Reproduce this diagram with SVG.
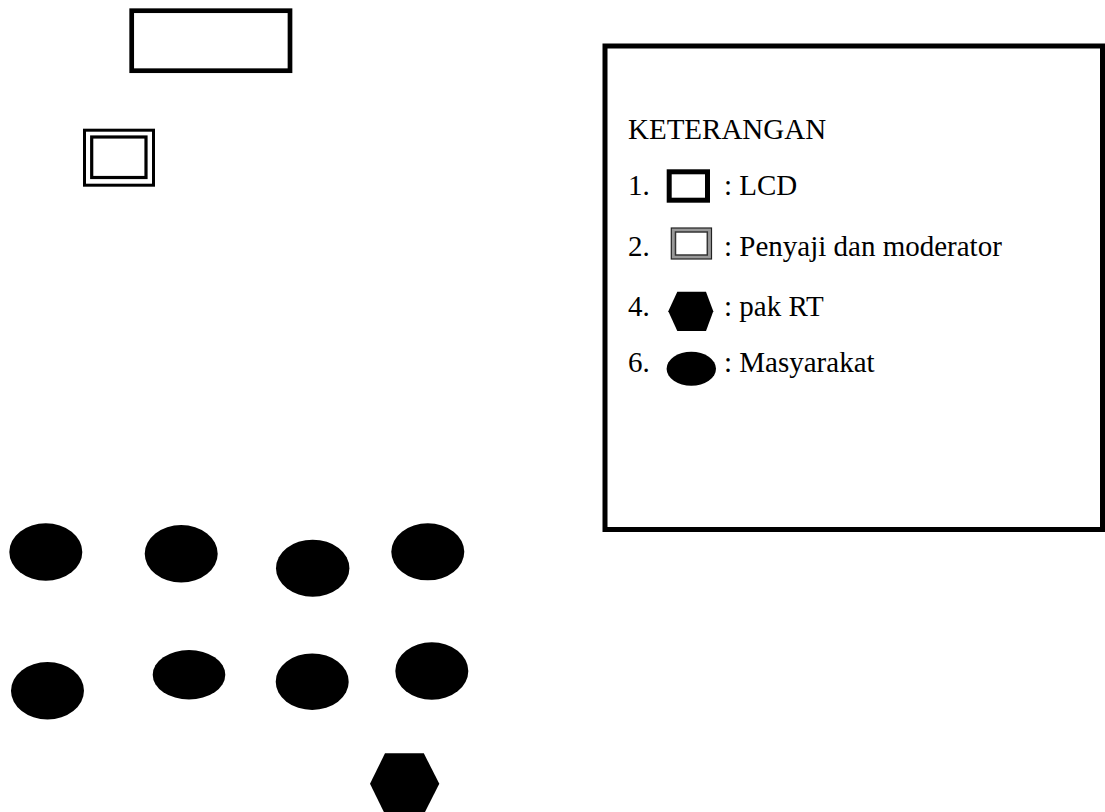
<svg xmlns="http://www.w3.org/2000/svg" width="1105" height="812" viewBox="0 0 1105 812">
<style>
.t{font-family:"Liberation Serif","Times New Roman",serif;font-size:29px;fill:#000}
.blob{fill:#000}
</style>
<rect width="1105" height="812" fill="#fff"/>
<g id="lcd"><rect x="131.7" y="10.7" width="158.3" height="60" fill="#fff" stroke="#000" stroke-width="4.7"/></g>
<g id="penyaji">
<rect x="84.5" y="130.2" width="69" height="55" fill="#fff" stroke="#000" stroke-width="3"/>
<rect x="91.7" y="137" width="54.3" height="40.5" fill="#fff" stroke="#000" stroke-width="3.2"/>
</g>
<g id="masyarakat">
<ellipse class="blob" cx="45.8" cy="552" rx="36.5" ry="28.7"/>
<ellipse class="blob" cx="181.2" cy="553.7" rx="36.5" ry="28.7"/>
<ellipse class="blob" cx="312.7" cy="568.2" rx="36.7" ry="28.5"/>
<ellipse class="blob" cx="427.8" cy="551.8" rx="36.5" ry="28.5"/>
<ellipse class="blob" cx="47.5" cy="690.7" rx="36.5" ry="28.7"/>
<ellipse class="blob" cx="189" cy="674.7" rx="36.3" ry="24.7"/>
<ellipse class="blob" cx="312.2" cy="681.7" rx="36.5" ry="28.3"/>
<ellipse class="blob" cx="431.8" cy="671" rx="36.5" ry="28.7"/>
</g>
<g id="pakrt"><polygon class="blob" points="385,753.3 423.8,753.3 439.3,783.8 423.8,814.3 385,814.3 370,783.8"/></g>
<g id="legend">
<rect x="605" y="46" width="497.5" height="483.5" fill="#fff" stroke="#000" stroke-width="5"/>
<text class="t" x="628" y="139">KETERANGAN</text>
<text class="t" x="628" y="194.5">1.</text>
<rect x="669.2" y="171.8" width="38.3" height="28.4" fill="#fff" stroke="#000" stroke-width="5"/>
<text class="t" x="724" y="194.5">: LCD</text>
<text class="t" x="628" y="256">2.</text>
<rect x="671.3" y="228" width="40.2" height="31" fill="#999" stroke="#222" stroke-width="1.2"/>
<rect x="675.5" y="232" width="31.8" height="23" fill="#fff" stroke="#333" stroke-width="1.5"/>
<text class="t" x="724" y="256">: Penyaji dan moderator</text>
<text class="t" x="628" y="315.5">4.</text>
<polygon class="blob" points="677.3,291.7 706,291.7 713.3,311.3 706,331 677.3,331 668.3,311.3"/>
<text class="t" x="724" y="315.5">: pak RT</text>
<text class="t" x="628" y="372">6.</text>
<ellipse class="blob" cx="691.3" cy="368.7" rx="24.7" ry="17"/>
<text class="t" x="724" y="372">: Masyarakat</text>
</g>
</svg>
